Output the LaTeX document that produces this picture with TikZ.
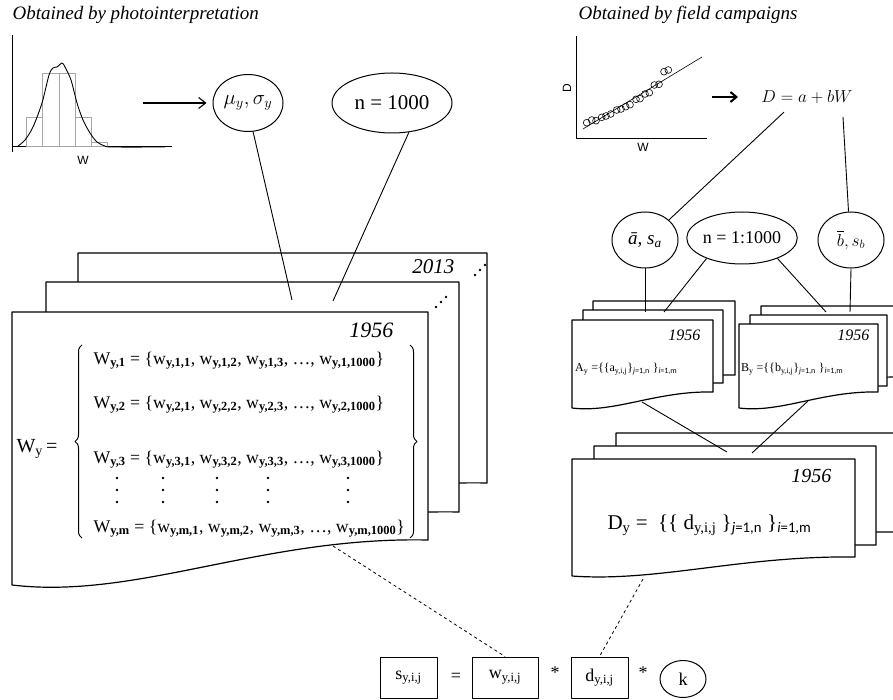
\documentclass[tikz,border=0pt]{standalone}
\usepackage{amsmath}
\usepackage{fontspec}
\setmainfont{Liberation Serif}
\newfontfamily\axisfont{Liberation Sans}
\newfontfamily\subfont{Carlito}
\usetikzlibrary{shapes.geometric}
\usetikzlibrary{arrows.meta}
\usetikzlibrary{decorations.pathreplacing}

% page with a wavy lower edge: x, y, width, right height, left height
\newcommand{\docpage}[5]{%
  \draw[page] (#1,#2) -- ({#1+#3},#2) -- ({#1+#3},{#2+#4})
    .. controls ({#1+0.6*#3},{#2+#4-0.08*(#5-#4)}) and ({#1+0.3*#3},{#2+#5+0.33*(#5-#4)})
    .. (#1,{#2+#5}) -- cycle;}
\newcommand{\wsub}[2]{#1\textsubscript{\textbf{y,#2}}}
\newcommand{\jrange}{\textsubscript{{\subfont\itshape j}{\subfont =1,n}}}
\newcommand{\irange}{\textsubscript{{\subfont\itshape i}{\subfont =1,m}}}
\newcommand{\fsz}[1]{\fontsize{#1}{#1}\selectfont}

\tikzset{
  page/.style={draw, fill=white, line width=1.2pt},
  oval/.style={ellipse, draw, line width=1pt, inner sep=0pt},
  link/.style={line width=0.9pt},
  dlink/.style={dashed, line width=0.8pt},
  cell/.style={draw, line width=1pt, minimum height=41pt, inner sep=0pt, font=\fsz{18}},
}

\begin{document}
\begin{tikzpicture}[x=1pt,y=-1pt,line join=round]
  \useasboundingbox (0,0) rectangle (893,700);
  \clip (0,0) rectangle (893,700);

  % photointerpretation
  \node[anchor=west, font=\fsz{19}\itshape] (titlew) at (9,15) {Obtained by photointerpretation};
  \draw[line width=0.9pt] (12,35) -- (12,152);
  \draw[line width=0.9pt] (12,146) -- (172,146);
  \foreach \xa/\xb/\yt in {26/42/117, 42/59/73, 59/75/73, 75/91/117, 91/107/142}
    \draw[gray!70, line width=0.6pt] (\xa,146) rectangle (\xb,\yt);
  \draw[line width=0.9pt] plot[smooth] coordinates {(18,146) (25,140) (33,127) (42,103) (49,75)
    (53,68) (57,67) (62,63) (65,67) (71,80) (77,103) (83,120) (90,133) (97,142) (105,146) (113,147) (165,147)};
  \node[font=\axisfont\fsz{12}] (histw) at (83,160) {W};

  \coordinate (harrow) at (143,103);
  \node[oval, minimum width=70pt, minimum height=57pt, font=\fsz{20}] (musig) at (248,103) {$\mu_y,\sigma_y$};
  \node[oval, minimum width=120pt, minimum height=60pt, font=\fsz{21}] (nfix) at (392,103) {n = 1000};
  \draw[-{Straight Barb[length=7pt,width=11pt]}, line width=1.1pt] (harrow) -- ([xshift=-6pt]musig.west);

  % W pages
  \docpage{78}{253}{409}{230}{275}
  \docpage{46}{282}{413}{230}{275}
  \docpage{12}{312}{416}{228}{273}
  \node[anchor=base east, font=\fsz{21}\itshape] (yearlast) at (458,274) {2013};
  \node[anchor=base east, font=\fsz{22}\itshape] (yearw) at (397,337) {1956};
  \foreach \k in {0,1,2} {
    \fill ({436+5*\k},{307-5*\k}) circle (1.3pt);
    \fill ({475+5*\k},{275-5*\k}) circle (1.3pt);
  }

  \node[anchor=base west, font=\fsz{20}] (wlabel) at (13,452) {W\textsubscript{y}\,=};
  \draw[decorate, decoration={brace, amplitude=7pt}, line width=1pt] (82,538) -- (82,345);
  \draw[decorate, decoration={brace, amplitude=7pt}, line width=1pt] (410,345) -- (410,538);
  \node[anchor=base west, font=\fsz{17.8}] (row1) at (90,364)
    {\wsub{W}{1} = \{\wsub{w}{1,1}, \wsub{w}{1,2}, \wsub{w}{1,3}, \ldots, \wsub{w}{1,1000}\}};
  \node[anchor=base west, font=\fsz{17.8}] (row2) at (90,408)
    {\wsub{W}{2} = \{\wsub{w}{2,1}, \wsub{w}{2,2}, \wsub{w}{2,3}, \ldots, \wsub{w}{2,1000}\}};
  \node[anchor=base west, font=\fsz{17.8}] (row3) at (90,463)
    {\wsub{W}{3} = \{\wsub{w}{3,1}, \wsub{w}{3,2}, \wsub{w}{3,3}, \ldots, \wsub{w}{3,1000}\}};
  \node[anchor=base west, font=\fsz{17.8}] (rowm) at (90,532)
    {\wsub{W}{m} = \{\wsub{w}{m,1}, \wsub{w}{m,2}, \wsub{w}{m,3}, \ldots, \wsub{w}{m,1000}\}};
  \foreach \xd in {117,163,217,268,348}
    \foreach \yd in {478,490,502}
      \fill (\xd,\yd) circle (1.4pt);

  \coordinate (wtopa) at (292,300);
  \coordinate (wtopb) at (333,301);
  \coordinate (wbot) at (333,546);
  \draw[link] (musig.-80) -- (wtopa);
  \draw[link] (nfix.-60) -- (wtopb);

  % field campaigns
  \node[anchor=west, font=\fsz{19}\itshape] (titled) at (575,15) {Obtained by field campaigns};
  \draw[line width=0.9pt] (576,36) -- (576,138) -- (707,138);
  \draw[line width=0.6pt] (583,129) -- (702,57);
  \foreach \px/\py in {586.7/122.7, 591.7/120, 596/120.7, 601.7/117.3, 606/116, 610.7/114,
      616.7/110, 621/109, 625.7/106.7, 630/104.7, 636/99.3, 640/98.7, 645/94, 649.3/92.7,
      654.3/85, 659/84.3, 664/71.7, 668.3/70}
    \draw[line width=0.6pt] (\px,\py) circle (3.4pt);
  \node[rotate=90, font=\axisfont\fsz{12}] (scatd) at (567,88) {D};
  \node[font=\axisfont\fsz{12}] (scatw) at (643,147) {W};

  \coordinate (sarrow) at (712,97);
  \node[font=\fsz{16}] (eq) at (807,97) {$D = a + bW$};
  \draw[-{Straight Barb[length=6pt,width=10pt]}, line width=2pt] (sarrow) -- (738,97);

  \node[oval, minimum width=66pt, minimum height=56pt, font=\fsz{19}\itshape] (abar) at (645,240) {ā, s\textsubscript{a}};
  \node[oval, minimum width=94pt, minimum height=52pt, font=\fsz{18}] (nrange) at (742,238) {n = 1:1000};
  \node[oval, minimum width=66pt, minimum height=56pt, font=\fsz{18}] (bbar) at (851,240) {$\overline{b}, s_b$};
  \draw[link] ([xshift=-23pt,yshift=-5pt]eq.south) -- (abar.40);
  \draw[link] ([xshift=36pt,yshift=-10pt]eq.south) -- (bbar.95);

  % A and B pages
  \docpage{593}{301}{142}{74}{90}
  \docpage{583}{310}{140}{73}{89}
  \docpage{572}{320}{141}{72}{88}
  \docpage{761}{306}{140}{71}{87}
  \docpage{750}{315}{137}{71}{87}
  \docpage{739}{324}{139}{68}{84}
  \node[anchor=base east, font=\fsz{16}\itshape] (yeara) at (704,340) {1956};
  \node[anchor=base east, font=\fsz{16}\itshape] (yearb) at (873,340) {1956};
  \node[anchor=west, font=\fsz{12}, inner sep=1pt] (aset) at (574,369)
    {A\textsubscript{y} =\{\{a\textsubscript{y,i,j}\}\jrange\ \}\irange};
  \node[anchor=west, font=\fsz{12}, inner sep=1pt] (bset) at (740,369)
    {B\textsubscript{y} =\{\{b\textsubscript{y,i,j}\}\jrange\ \}\irange};

  \coordinate (atopa) at (645,312);
  \coordinate (atopb) at (664,312);
  \coordinate (btopa) at (826,312);
  \coordinate (btopb) at (850,312);
  \draw[link] (abar.south) -- (atopa);
  \draw[link] (nrange.-150) -- (atopb);
  \draw[link] (nrange.-30) -- (btopa);
  \draw[link] (bbar.south) -- (btopb);

  % D pages
  \docpage{616}{433}{282}{99}{118}
  \docpage{594}{446}{282}{99}{118}
  \docpage{572}{459}{283}{98}{117}
  \node[anchor=base east, font=\fsz{20}\itshape] (yeard) at (835,482) {1956};
  \node[anchor=west, font=\fsz{21}] (dset) at (604,525)
    {D\textsubscript{y} = \ \{\{ d\textsubscript{y,i,j} \}\jrange\ \}\irange};

  \coordinate (abot) at (642,402);
  \coordinate (bbot) at (808,401);
  \coordinate (dtopa) at (727,452);
  \coordinate (dtopb) at (752,453);
  \coordinate (dbot) at (643,579);
  \draw[link] (abot) -- (dtopa);
  \draw[link] (bbot) -- (dtopb);

  % s = w * d * k
  \node[cell, minimum width=57pt] (sbox) at (408.5,677.5) {s\textsubscript{y,i,j}};
  \node[font=\fsz{18}] (eqsign) at (456,677) {=};
  \node[cell, minimum width=66pt] (wbox) at (505,677.5) {w\textsubscript{y,i,j}};
  \node[font=\fsz{18}] (stara) at (555,673) {*};
  \node[cell, minimum width=57pt] (dbox) at (599.5,677.5) {d\textsubscript{y,i,j}};
  \node[font=\fsz{18}] (starb) at (643,673) {*};
  \node[oval, minimum width=46pt, minimum height=37pt, font=\fsz{18}] (kconst) at (683,679) {k};
  \draw[dlink] (wbot) -- (wbox.north);
  \draw[dlink] (dbot) -- (dbox.north);
\end{tikzpicture}
\end{document}
